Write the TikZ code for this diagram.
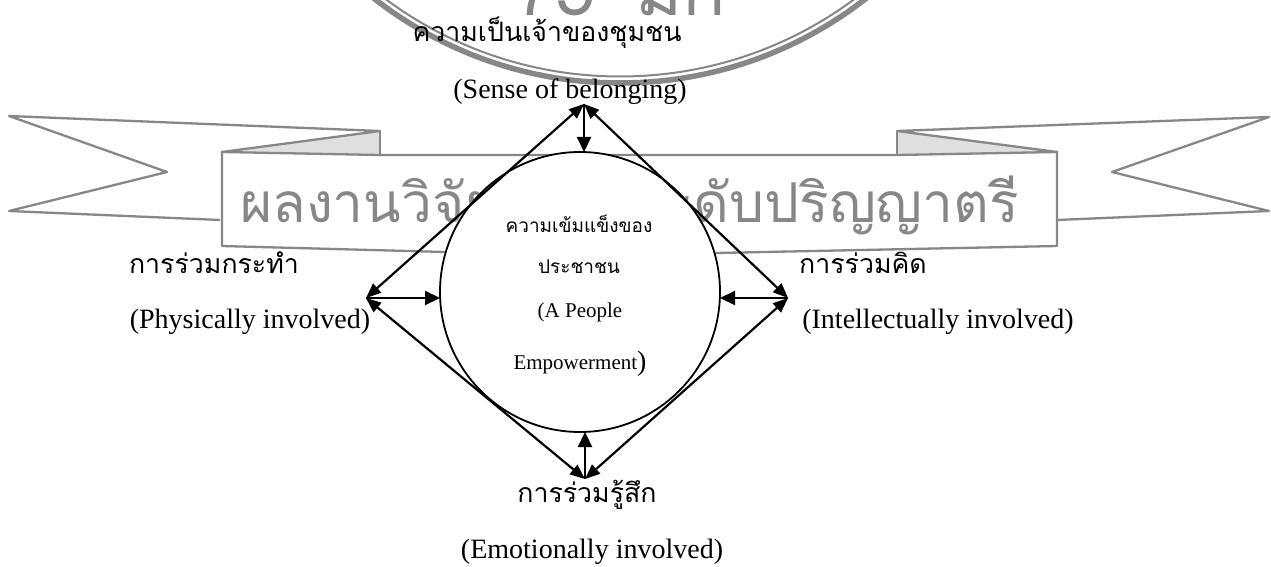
\documentclass[tikz,border=0pt]{standalone}
\usepackage{fontspec}
\setmainfont{Liberation Serif}
\newfontfamily\thaifont[Script=Thai]{Loma}
\usetikzlibrary{arrows.meta,shapes.geometric}
\definecolor{wm}{gray}{0.53}
\tikzset{
  x=1pt,y=-1pt,
  wmline/.style={draw=wm,line width=2.3pt,line join=round},
  conn/.style={draw=black,line width=2.2pt,{Triangle[length=15pt,width=12pt]}-{Triangle[length=15pt,width=12pt]}},
  radial/.style={draw=black,line width=2.2pt,-{Triangle[length=15pt,width=14pt]}},
  lab/.style={font=\fontsize{28}{30}\selectfont,inner sep=0pt,anchor=center},
  thlab/.style={font=\thaifont\fontsize{26.7}{30}\selectfont,inner sep=0pt,anchor=center},
  small/.style={font=\fontsize{21}{24}\selectfont,inner sep=0pt,anchor=center},
  thsmall/.style={font=\thaifont\fontsize{19}{22}\selectfont,inner sep=0pt,anchor=center},
}
\begin{document}
\begin{tikzpicture}
\useasboundingbox (0,0) rectangle (1271,567);
\fill[white] (0,0) rectangle (1271,567);
% seal
\begin{scope}
\clip (0,0) rectangle (1271,567);
\draw[wm,line width=5.5pt] (620,-317) circle[radius=400];
\draw[wm,line width=2pt] (620,-317) circle[radius=393.5];
\node[font=\thaifont\fontsize{72}{76}\selectfont,text=wm,inner sep=0pt,anchor=base] (sealtext) at (621,16) {75\hspace{40pt}มก};
\end{scope}
% banner
\fill[gray!25] (222,152) -- (380,131) -- (380,155) -- cycle;
\fill[gray!25] (897,131) -- (1057,152) -- (897,155) -- cycle;
\draw[wmline] (222,152) -- (380,131) -- (9,116) -- (167,172) -- (9,211) -- (220,220);
\draw[wmline] (380,131) -- (380,155);
\draw[wmline] (222,152) -- (222,246) -- (445,252) -- (716,253) -- (1057,246) -- (1057,152) -- (897,155) -- (380,155) -- cycle;
\draw[wmline] (1057,152) -- (897,131) -- (1269,117) -- (1112,172) -- (1269,211) -- (1057,220);
\draw[wmline] (897,131) -- (897,155);
\node[font=\thaifont\fontsize{55}{60}\selectfont,text=wm,inner sep=0pt,anchor=base] (wmtext) at (629.5,222) {ผลงานวิจัย\hspace{138pt}ระดับปริญญาตรี};
% circle
\node[draw=black,fill=white,line width=1.8pt,circle,minimum size=280,inner sep=0pt] (core) at (580,292) {};
\coordinate (top) at (584,104);
\coordinate (left) at (366,298);
\coordinate (right) at (788,298);
\coordinate (bottom) at (585,479);
\coordinate (ct) at (584,152);
\coordinate (cl) at (440,298);
\coordinate (cr) at (720,298);
\coordinate (cb) at (585,432);
\draw[conn] (top) -- (left);
\draw[conn] (top) -- (right);
\draw[conn] (left) -- (bottom);
\draw[conn] (right) -- (bottom);
\draw[radial] (top) -- (ct);
\draw[radial] (left) -- (cl);
\draw[radial] (right) -- (cr);
\draw[radial] (bottom) -- (cb);
% labels
\node[thlab] (t1) at (547,33) {ความเป็นเจ้าของชุมชน};
\node[lab] (t2) at (570,92) {(Sense of belonging)};
\node[thlab] (l1) at (214,263) {การร่วมกระทำ};
\node[lab] (l2) at (250,322) {(Physically involved)};
\node[thlab] (r1) at (863,263) {การร่วมคิด};
\node[lab] (r2) at (938,322) {(Intellectually involved)};
\node[thlab] (b1) at (587,495) {การร่วมรู้สึก};
\node[lab] (b2) at (592,552) {(Emotionally involved)};
\node[thsmall] (c1) at (579,224) {ความเข้มแข็งของ};
\node[thsmall] (c2) at (579,267) {ประชาชน};
\node[small] (c3) at (580,312) {(A People};
\node[small] (c4) at (580,364) {Empowerment\raisebox{-1pt}{\fontsize{28}{30}\selectfont )}};
\end{tikzpicture}
\end{document}
